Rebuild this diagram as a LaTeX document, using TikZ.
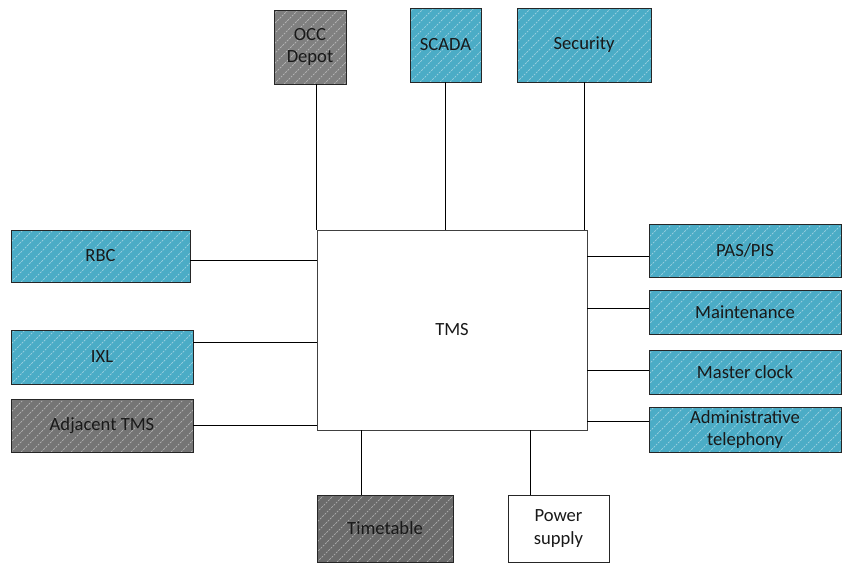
\documentclass[tikz,border=0pt]{standalone}
\usepackage{fontspec}
\setmainfont{Carlito}
\begin{document}
\begin{tikzpicture}[x=1pt,y=-1pt,
  font=\fontsize{18.6}{22.5}\selectfont,
  box/.style={draw=black!85, line width=0.9pt, inner sep=0pt, align=center, text=black!90},
  hatch/.style={path picture={
    \foreach \i in {-320,-310,...,200}
      \draw[white, opacity=0.45, line width=0.7pt, dash pattern=on 2pt off 1.2pt]
        ([xshift=\i pt]path picture bounding box.south west) -- ++(330pt,330pt);}},
  aqua/.style={box, hatch, fill={rgb,255:red,75;green,172;blue,198}},
  greyA/.style={box, hatch, fill=black!50},
  greyB/.style={box, hatch, fill=black!54},
  greyC/.style={box, hatch, fill=black!58},
  plain/.style={box, fill=white},
  link/.style={draw=black, line width=0.8pt}]
\useasboundingbox (0,0) rectangle (842,563);

% central system
\node[plain, draw=black!75, minimum width=270, minimum height=200] (tms) at (452,330) {TMS};

% top row
\node[greyA, minimum width=72, minimum height=74] (occ) at (310,47) {OCC\\Depot};
\node[aqua, minimum width=71, minimum height=74] (scada) at (445.5,45) {SCADA};
\node[aqua, minimum width=134, minimum height=74] (sec) at (584,45) {Security};

% left column
\node[aqua, minimum width=179, minimum height=52] (rbc) at (100.5,256) {RBC};
\node[aqua, minimum width=182, minimum height=54] (ixl) at (102,357) {IXL};
\node[greyB, minimum width=182, minimum height=53] (adj) at (102,425.5) {Adjacent TMS};

% right column
\node[aqua, minimum width=192, minimum height=53] (pas) at (745,250.5) {PAS/PIS};
\node[aqua, minimum width=192, minimum height=44] (maint) at (745,312) {Maintenance};
\node[aqua, minimum width=192, minimum height=44] (clock) at (745,372) {Master clock};
\node[aqua, minimum width=192, minimum height=45] (admin) at (745,429.5) {Administrative\\telephony};

% bottom row
\node[greyC, minimum width=136, minimum height=67] (tt) at (385,528.5) {Timetable};
\node[plain, minimum width=101, minimum height=67] (pow) at (558.5,528.5) {Power\\supply};

% attachment points on the boxes
\coordinate (rbcp) at ([yshift=-4pt]rbc.east);
\coordinate (ixlp) at ([yshift=15pt]ixl.east);
\coordinate (pasp) at ([yshift=-5.5pt]pas.west);
\coordinate (maintp) at ([yshift=4pt]maint.west);
\coordinate (clockp) at ([yshift=2pt]clock.west);
\coordinate (adminp) at ([yshift=8.5pt]admin.west);
\coordinate (ttp) at ([xshift=-24pt]tt.north);
\coordinate (powp) at ([xshift=-28.5pt]pow.north);

% connectors
\draw[link] (tms.north west) -- (tms.north west |- occ.south);
\draw[link] (scada.south) -- (scada.south |- tms.north);
\draw[link] (sec.south) -- (sec.south |- tms.north);
\draw[link] (rbcp) -- (rbcp -| tms.west);
\draw[link] (ixlp) -- (ixlp -| tms.west);
\draw[link] (adj.east) -- (adj.east -| tms.west);
\draw[link] (pasp) -- (pasp -| tms.east);
\draw[link] (maintp) -- (maintp -| tms.east);
\draw[link] (clockp) -- (clockp -| tms.east);
\draw[link] (adminp) -- (adminp -| tms.east);
\draw[link] (ttp) -- (ttp |- tms.south);
\draw[link] (powp) -- (powp |- tms.south);
\end{tikzpicture}
\end{document}
